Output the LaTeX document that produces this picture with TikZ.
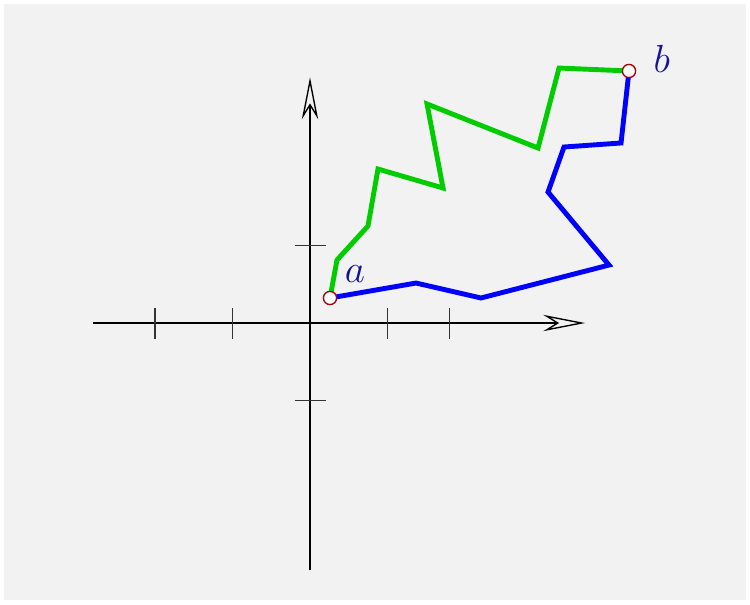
\documentclass[tikz,border=0pt]{standalone}
\usepackage{amsmath,amssymb}
\usepackage{xcolor}
\usepackage{tikz}
\usetikzlibrary{arrows.meta,positioning}

\definecolor{pathGreen}{RGB}{0,204,0}
\definecolor{labelBlue}{RGB}{20,20,150}

\begin{document}
\begin{tikzpicture}[
	% Coordinate axes
	axis/.style={
		line width=0.5pt,
		-{Stealth[open,length=5.4mm,width=2.1mm,inset=1.7mm]}
	},
	tick/.style={
		draw=black!80,
		line width=0.6pt
	},
	% Two paths from a to b
	pathBlue/.style={
		draw=blue,
		line width=1.8pt,
		line join=miter
	},
	pathGreen/.style={
		draw=pathGreen,
		line width=1.8pt,
		line join=miter
	},
	endpoint/.style={
		circle,
		draw=red!65!black,
		fill=white,
		minimum size=1.7mm,
		inner sep=0pt,
		line width=0.5pt
	},
	pointlabel/.style={
		font=\Large,
		text=labelBlue
	}
	]
	
	% Background
	\useasboundingbox (-4.0,-3.626) rectangle (5.677,4.168);
	\fill[black!5] (-3.948,-3.574) rectangle (5.626,4.116);
	
	% Axes
	\coordinate (xmin) at (-2.8,0);
	\coordinate (xmax) at (3.55,0);
	\coordinate (ymin) at (0,-3.19);
	\coordinate (ymax) at (0,3.17);
	\draw[axis] (xmin) -- (xmax);
	\draw[axis] (ymin) -- (ymax);
	
	% Ticks
	\foreach \x in {-2,-1,1,1.8}
	\draw[tick] (\x,-0.2) -- (\x,0.2);
	\foreach \y in {-1,1}
	\draw[tick] (-0.2,\y) -- (0.2,\y);
	
	% End points
	\coordinate (a) at (0.258,0.323);
	\coordinate (b) at (4.116,3.252);
	
	% Lower (blue) path
	\coordinate (u1) at (1.368,0.516);
	\coordinate (u2) at (2.206,0.323);
	\coordinate (u3) at (3.858,0.748);
	\coordinate (u4) at (3.071,1.690);
	\coordinate (u5) at (3.277,2.271);
	\coordinate (u6) at (4.013,2.323);
	\draw[pathBlue] (a) -- (u1) -- (u2) -- (u3) -- (u4) -- (u5) -- (u6) -- (b);
	
	% Upper (green) path
	\coordinate (v1) at (0.348,0.813);
	\coordinate (v2) at (0.748,1.252);
	\coordinate (v3) at (0.877,1.987);
	\coordinate (v4) at (1.716,1.742);
	\coordinate (v5) at (1.510,2.826);
	\coordinate (v6) at (2.942,2.258);
	\coordinate (v7) at (3.213,3.290);
	\draw[pathGreen] (a) -- (v1) -- (v2) -- (v3) -- (v4) -- (v5) -- (v6) -- (v7) -- (b);
	
	\node[endpoint] (na) at (a) {};
	\node[endpoint] (nb) at (b) {};
	
	\node[pointlabel] (la) at (0.58,0.63) {$a$};
	\node[pointlabel] (lb) at (4.54,3.41) {$b$};
	
\end{tikzpicture}
\end{document}
